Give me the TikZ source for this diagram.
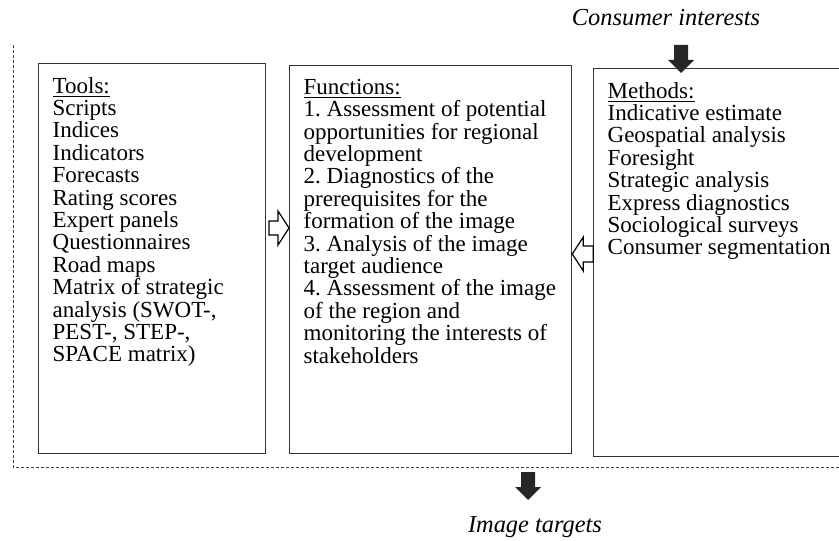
\documentclass[tikz,border=0pt]{standalone}
\usepackage{fontspec}
\setmainfont{Liberation Serif}
\usetikzlibrary{calc}

\tikzset{
    box/.style={draw=black!80, line width=0.65pt, anchor=north west, inner xsep=7pt, inner ysep=6.75pt,
        font=\fontsize{11.5}{11.2}\selectfont\frenchspacing},
    frame/.style={draw=black!75, dash pattern=on 1.6pt off 0.9pt, line width=0.5pt},
    openarrow/.style={draw=black, line width=0.6pt, fill=white, line join=miter},
    solidarrow/.style={fill=black!85},
    caption/.style={font=\fontsize{12.2}{12}\selectfont\itshape, anchor=base},
}

\begin{document}
\begin{tikzpicture}[x=0.5pt, y=-0.5pt]
    \useasboundingbox (0,0) rectangle (839,540);
    \clip (0,0) rectangle (839,540);

    % dashed frame, open at top and right
    \draw[frame] (13,45) -- (13,467) -- (839,467);

    \node[box] (tools) at (38,63) {\parbox[t][181.5pt][t]{99.5pt}{\raggedright
        \underline{Tools:}\\
        Scripts\\
        Indices\\
        Indicators\\
        Forecasts\\
        Rating scores\\
        Expert panels\\
        Questionnaires\\
        Road maps\\
        Matrix of strategic\\
        analysis (SWOT-,\\
        PEST-, STEP-,\\
        SPACE matrix)}};

    \node[box] (functions) at (289,65) {\parbox[t][180.5pt][t]{127pt}{\raggedright
        \underline{Functions:}\\
        1. Assessment of potential\\
        opportunities for regional\\
        development\\
        2. Diagnostics of the\\
        prerequisites for the\\
        formation of the image\\
        3. Analysis of the image\\
        target audience\\
        4. Assessment of the image\\
        of the region and\\
        monitoring the interests of\\
        stakeholders}};

    \node[box] (methods) at (593,68) {\parbox[t][180.5pt][t]{129.5pt}{\raggedright
        \underline{Methods:}\\
        Indicative estimate\\
        Geospatial analysis\\
        Foresight\\
        Strategic analysis\\
        Express diagnostics\\
        Sociological surveys\\
        Consumer segmentation}};

    \node[caption] (interests) at (666,26) {Consumer interests};
    \node[caption] (targets) at (535,532) {Image targets};

    % open arrows between the boxes
    \begin{scope}[shift={(functions.west |- 0,228)}]
        \draw[openarrow] (-20,-7) -- (-11,-7) -- (-11,-17) -- (0,0) -- (-11,17) -- (-11,7) -- (-20,7) -- cycle;
    \end{scope}
    \begin{scope}[shift={(functions.east |- 0,254)}, xscale=-1]
        \draw[openarrow] (-21,-8) -- (-11,-8) -- (-11,-17) -- (0,0) -- (-11,17) -- (-11,8) -- (-21,8) -- cycle;
    \end{scope}

    % solid arrows in and out
    \foreach \x/\y in {681/73, 528/500} {
        \begin{scope}[shift={(\x,\y)}]
            \fill[solidarrow] (-7,-28) -- (7,-28) -- (7,-13) -- (13,-13) -- (0,0) -- (-13,-13) -- (-7,-13) -- cycle;
        \end{scope}
    }
\end{tikzpicture}
\end{document}
